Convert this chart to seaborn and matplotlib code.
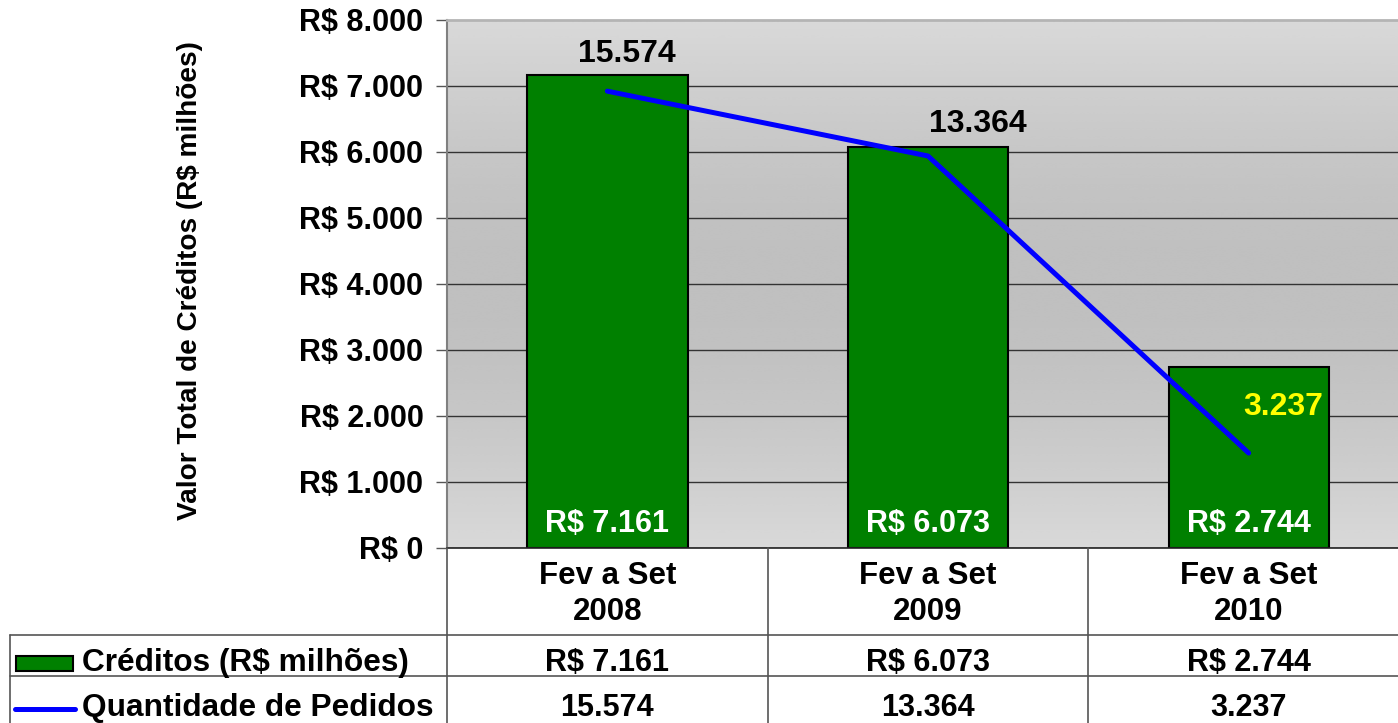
import numpy as np
import pandas as pd
import matplotlib
matplotlib.use('Agg')
import matplotlib.pyplot as plt
import matplotlib.transforms as mtransforms
from matplotlib.patches import Rectangle
from matplotlib.lines import Line2D
from matplotlib.ticker import FuncFormatter
import seaborn as sns

# data
periodos = ['Fev a Set\n2008', 'Fev a Set\n2009', 'Fev a Set\n2010']
creditos = [7161, 6073, 2744]          # R$ milhões
pedidos = [15574, 13364, 3237]         # quantidade de pedidos
serie_creditos = 'Créditos (R$ milhões)'
serie_pedidos = 'Quantidade de Pedidos'

# label offsets for the line labels (points) and colours
ped_offsets = [(14, 27), (36, 23), (25, 33)]
ped_colors = ['black', 'black', '#ffff00']

sns.set_style('white')
plt.rcParams['font.family'] = ['Liberation Sans', 'DejaVu Sans']
plt.rcParams['font.weight'] = 'bold'
plt.rcParams['text.color'] = 'black'
plt.rcParams['ytick.labelcolor'] = 'black'

def br(v):
    return f"{v:,.0f}".replace(',', '.')

W, H = 1398, 723
fig = plt.figure(figsize=(W / 100, H / 100), dpi=100)
ax = fig.add_axes([447 / W, 175 / H, 962 / W, 528 / H])

df = pd.DataFrame({'periodo': periodos, 'creditos': creditos, 'pedidos': pedidos})

# gradient background (light - darker - light)
t = np.linspace(0, 1, 256)
shade = 0.851 - 0.10 * np.sin(np.pi * t)
grad = np.repeat(shade[:, None], 2, axis=1)
ax.imshow(grad, cmap='gray', vmin=0, vmax=1, extent=[0, 1, 0, 1],
          transform=ax.transAxes, aspect='auto', zorder=0, interpolation='bicubic')

sns.barplot(data=df, x='periodo', y='creditos', ax=ax, color='#008000',
            saturation=1, width=0.5, edgecolor='black', linewidth=1.5, zorder=2)

ax.set_xlim(-0.5, 2.5)
ax.set_ylim(0, 8000)
ax.set_yticks(np.arange(0, 8001, 1000))
ax.yaxis.set_major_formatter(FuncFormatter(lambda v, p: 'R$ ' + br(v)))
ax.tick_params(axis='y', direction='out', length=8, width=1, color='#555555',
               pad=9, labelsize=22, labelcolor='black')
ax.tick_params(axis='x', length=0, labelbottom=False)
ax.set_xlabel('')
ax.set_ylabel('')
ax.yaxis.grid(True, color='#333333', lw=1)
ax.set_axisbelow(True)
ax.get_ygridlines()[-1].set_visible(False)
for gl in ax.get_ygridlines():
    gl.set_zorder(1)
ax.spines['left'].set_color('#808080')
ax.spines['left'].set_linewidth(1.5)
ax.spines['top'].set_color('#b4b4b4')
ax.spines['top'].set_linewidth(2)
ax.spines['right'].set_visible(False)
ax.spines['bottom'].set_color('#222222')
ax.spines['bottom'].set_linewidth(1.2)

# values inside the bars
for i, v in enumerate(creditos):
    ax.annotate('R$ ' + br(v), xy=(i, 0), xytext=(0, 17), textcoords='offset points',
                ha='center', va='center', color='white', fontsize=22, fontweight='bold',
                zorder=5)

# line on hidden secondary axis
ax2 = ax.twinx()
ax2.set_ylim(0, 18000)
sns.lineplot(x=np.arange(len(pedidos)), y=pedidos, ax=ax2, color='#0000ff', lw=3.6,
             solid_capstyle='round', legend=False)
ax2.set_xlim(-0.5, 2.5)
ax2.axis('off')
for i, v in enumerate(pedidos):
    ax2.annotate(br(v), xy=(i, v), xytext=ped_offsets[i], textcoords='offset points',
                 ha='center', va='center', color=ped_colors[i], fontsize=23,
                 fontweight='bold')

# y label
fig.text(190 / W, 1 - 281 / H, 'Valor Total de Créditos (R$ milhões)', rotation=90,
         ha='center', va='center', fontsize=20.2, fontweight='bold')

# data table below the chart
tr = mtransforms.blended_transform_factory(ax.transData, fig.transFigure)
line_kw = dict(color='#555555', lw=1.2)
fy = lambda px: 1 - px / H
for xb in [-0.5, 0.5, 1.5]:
    fig.add_artist(Line2D([xb, xb], [fy(548), fy(H + 5)], transform=tr, **line_kw))
fig.add_artist(Line2D([10 / W, 1], [fy(635), fy(635)], transform=fig.transFigure, **line_kw))
fig.add_artist(Line2D([10 / W, 1], [fy(676), fy(676)], transform=fig.transFigure, **line_kw))
fig.add_artist(Line2D([10 / W, 10 / W], [fy(635), fy(H + 5)], transform=fig.transFigure, **line_kw))

for i, p in enumerate(periodos):
    fig.text(i, fy(594), p, transform=tr, ha='center', va='center', fontsize=22.5,
             fontweight='bold', linespacing=1.25)
    fig.text(i, fy(663), 'R$ ' + br(creditos[i]), transform=tr, ha='center', va='center',
             fontsize=22, fontweight='bold')
    fig.text(i, fy(708), br(pedidos[i]), transform=tr, ha='center', va='center',
             fontsize=22, fontweight='bold')

fig.add_artist(Rectangle((16 / W, fy(671)), 57 / W, 15 / H, transform=fig.transFigure,
                         facecolor='#008000', edgecolor='black', lw=1.5))
fig.text(82 / W, fy(663), serie_creditos, ha='left', va='center', fontsize=22.8,
         fontweight='bold')
fig.add_artist(Line2D([15 / W, 75 / W], [fy(709), fy(709)], transform=fig.transFigure,
                      color='#0000ff', lw=3.6, solid_capstyle='round'))
fig.text(82 / W, fy(708), serie_pedidos, ha='left', va='center', fontsize=22.8,
         fontweight='bold')

fig.savefig('out.png', dpi=100)
